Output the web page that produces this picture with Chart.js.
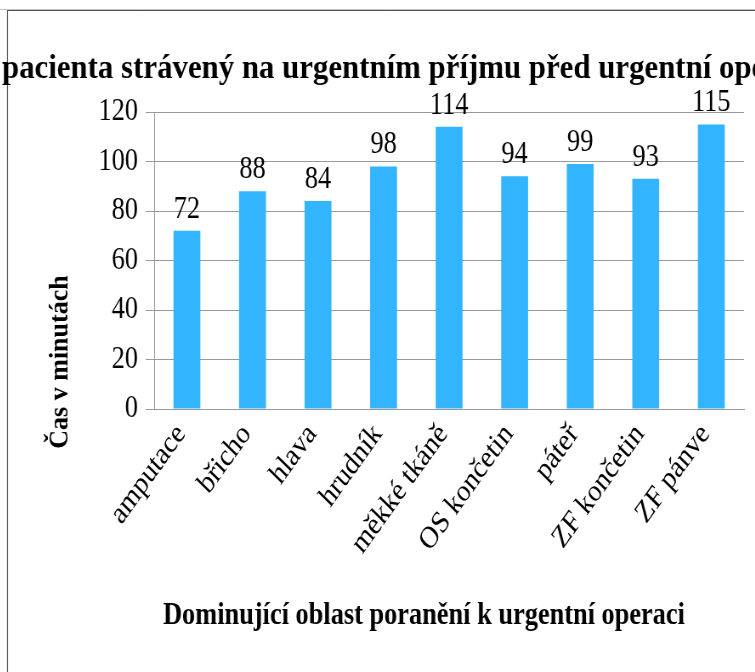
<!DOCTYPE html>
<html>
<head>
<meta charset="utf-8">
<script src="https://cdn.jsdelivr.net/npm/chart.js@4/dist/chart.umd.min.js"></script>
<style>
  html, body { margin: 0; padding: 0; background: #fff; overflow: hidden; width: 755px; height: 672px; }
  #wrap { position: absolute; left: -100px; top: 0; width: 1141px; height: 672px; transform: scaleX(0.85); transform-origin: 0 0; }
</style>
</head>
<body>
<div id="wrap"><canvas id="c" width="1141" height="672"></canvas></div>
<script>
const categories = ["amputace", "břicho", "hlava", "hrudník", "měkké tkáně", "OS končetin", "páteř", "ZF končetin", "ZF pánve"];
const values = [72, 88, 84, 98, 114, 94, 99, 93, 115];
const yTicks = [0, 20, 40, 60, 80, 100, 120];
const titleText = "Čas pacienta strávený na urgentním příjmu před urgentní operací";
const titleBefore = "Čas ";                                   // part cut off at the left in the reference
const titleUpToOp = "Čas pacienta strávený na urgentním příjmu před urgentní ";
const xTitleText = "Dominující oblast poranění k urgentní operaci";
const yTitleText = "Čas v minutách";

const SERIF = "'Liberation Serif', 'Times New Roman', serif";
const S = 0.85, OFF = 100;           // horizontal squeeze of the page and canvas offset
const ux = x => (x + OFF) / S;       // screen x -> canvas x

const decor = {
  id: 'decor',
  afterDraw(chart) {
    const ctx = chart.ctx;
    ctx.save();
    // frame
    ctx.lineWidth = 1;
    ctx.strokeStyle = '#c0c0c0';
    ctx.beginPath(); ctx.moveTo(0, 9.5); ctx.lineTo(chart.width, 9.5); ctx.stroke();
    ctx.strokeStyle = '#555';
    ctx.lineWidth = 1 / S;
    ctx.beginPath(); ctx.moveTo(ux(7.5), 700); ctx.lineTo(ux(7.5), 10.5); ctx.lineTo(chart.width, 10.5); ctx.stroke();

    // chart title (overflowing the frame like the reference), fitted so that
    // "pacienta" starts at screen x=3 and "op" of "operací" starts at screen x=720
    ctx.fillStyle = '#000';
    ctx.font = 'bold 34px ' + SERIF;
    ctx.textAlign = 'left';
    ctx.textBaseline = 'alphabetic';
    const wPre = ctx.measureText(titleBefore).width;
    const wOp = ctx.measureText(titleUpToOp).width;
    const k = ((720 - 3) / S) / (wOp - wPre);
    ctx.save();
    ctx.translate(ux(2), 78);
    ctx.scale(k, 1);
    ctx.fillText(titleText, -wPre, 0);
    ctx.restore();

    // value labels
    const meta = chart.getDatasetMeta(0);
    ctx.font = '31px ' + SERIF;
    ctx.textAlign = 'center';
    meta.data.forEach((bar, i) => {
      ctx.fillText(String(values[i]), bar.x, bar.y - 13);
    });
    // axis titles
    ctx.font = 'bold 31px ' + SERIF;
    ctx.textBaseline = 'middle';
    ctx.fillText(xTitleText, ux(424), 616);
    ctx.font = 'bold 26px ' + SERIF;
    ctx.translate(ux(61), 362);
    ctx.scale(1 / S, 1);
    ctx.rotate(-Math.PI / 2);
    ctx.fillText(yTitleText, 0, 0);
    ctx.restore();
  }
};

new Chart(document.getElementById('c'), {
  type: 'bar',
  data: {
    labels: categories,
    datasets: [{
      data: values,
      backgroundColor: '#33b4ff',
      borderWidth: 0,
      categoryPercentage: 1,
      barPercentage: 0.41
    }]
  },
  options: {
    responsive: false,
    animation: false,
    devicePixelRatio: 1,
    layout: { padding: { left: 191, right: 148, top: 112, bottom: 0 } },
    plugins: {
      legend: { display: false },
      tooltip: { enabled: false },
      title: { display: false }
    },
    scales: {
      x: {
        grid: { display: false },
        border: { display: true, color: '#999', width: 1 },
        ticks: {
          color: '#000',
          font: { family: SERIF, size: 31 },
          minRotation: 50, maxRotation: 50,
          autoSkip: false,
          padding: 0,
          labelOffset: -7
        },
        afterFit(scale) { scale.height = 263; }
      },
      y: {
        min: 0, max: 120,
        afterBuildTicks(scale) { scale.ticks = yTicks.map(v => ({ value: v })); },
        grid: { color: '#999', lineWidth: 1, drawTicks: true, tickLength: 10 },
        border: { display: true, color: '#999', width: 1 },
        ticks: {
          color: '#000',
          font: { family: SERIF, size: 31 },
          padding: 9
        },
        afterFit(scale) { scale.width = 108; }
      }
    }
  },
  plugins: [decor]
});
</script>
</body>
</html>
